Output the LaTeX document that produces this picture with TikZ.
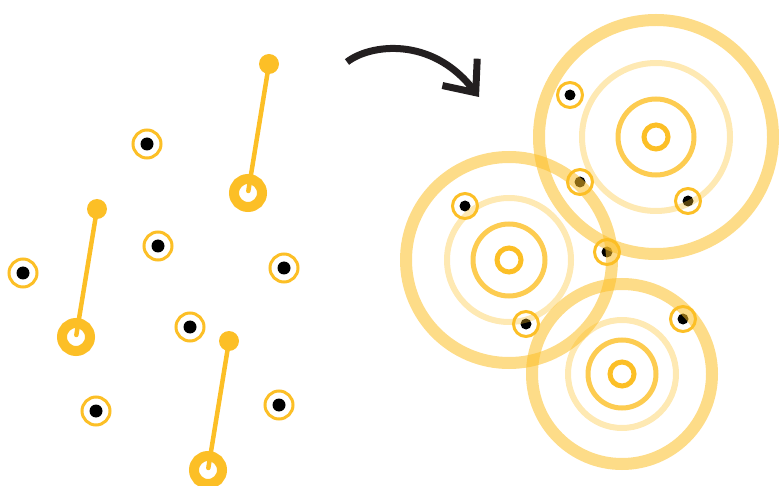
\documentclass[tikz,border=0pt]{standalone}
\usepackage{xcolor}
\usepackage{tikz}
\usetikzlibrary{arrows.meta}

\definecolor{amber}{RGB}{252,191,38}
\definecolor{ink}{RGB}{35,31,32}

\begin{document}
\begin{tikzpicture}[
  x=1pt, y=-1pt,
  particle/.style={circle, draw=amber, line width=3pt, fill=white, inner sep=0pt, minimum size=28pt, path picture={\fill[black] (path picture bounding box.center) circle[radius=6.5pt];}},
  caught/.style={circle, draw=amber, line width=3pt, fill=white, inner sep=0pt, minimum size=25pt, path picture={\fill[black] (path picture bounding box.center) circle[radius=5.5pt];}},
  ball/.style={circle, fill=amber, inner sep=0pt, minimum size=20pt},
  hub/.style={circle, draw=amber, line width=10pt, inner sep=0pt, minimum size=28pt},
  rod/.style={draw=amber, line width=4.5pt, line cap=round, shorten >=2pt},
  core/.style={draw=amber, line width=5pt},
  wave/.style={draw=amber, line width=5pt, draw opacity=0.8},
  halo/.style={draw=amber, line width=6pt, draw opacity=0.35},
  shell/.style={draw=amber, line width=12pt, draw opacity=0.55},
  turn/.style={-{Straight Barb[length=26pt, width=44pt, line join=miter, line cap=butt]}, line width=7pt, draw=ink}
]
\useasboundingbox (0,0) rectangle (779,486);
% free particles
\node[particle] (p1) at (147,144) {};
\node[particle] (p2) at (158,246) {};
\node[particle] (p3) at (23,273) {};
\node[particle] (p4) at (284,268) {};
\node[particle] (p5) at (190,327) {};
\node[particle] (p6) at (96,411) {};
\node[particle] (p7) at (279,405) {};
% pendulums
\node[ball] (b1) at (269,64) {};
\node[hub] (h1) at (248,193) {};
\node[ball] (b2) at (97,209) {};
\node[hub] (h2) at (76,337) {};
\node[ball] (b3) at (229,341) {};
\node[hub] (h3) at (208,470) {};
\draw[rod] (b1.center) -- (h1.center);
\draw[rod] (b2.center) -- (h2.center);
\draw[rod] (b3.center) -- (h3.center);
% arrow
\coordinate (from) at (347,62);
\coordinate (to) at (479,97);
\draw[turn] (from) .. controls (370,44) and (432,36) .. (to);
% particles caught in the waves
\node[caught] (q1) at (570,95) {};
\node[caught] (q2) at (465,206) {};
\node[caught] (q3) at (580,182) {};
\node[caught] (q4) at (688,201) {};
\node[caught] (q5) at (607,252) {};
\node[caught] (q6) at (526,324) {};
\node[caught] (q7) at (683,319) {};
% wave sources
\coordinate (ca) at (656,137);
\coordinate (cb) at (509,260);
\coordinate (cc) at (622,374);
\draw[core] (ca) circle[radius=12pt];
\draw[wave] (ca) circle[radius=38pt];
\draw[halo] (ca) circle[radius=74pt];
\draw[shell] (ca) circle[radius=117pt];
\draw[core] (cb) circle[radius=12pt];
\draw[wave] (cb) circle[radius=36pt];
\draw[halo] (cb) circle[radius=62pt];
\draw[shell] (cb) circle[radius=103pt];
\draw[core] (cc) circle[radius=12pt];
\draw[wave] (cc) circle[radius=34pt];
\draw[halo] (cc) circle[radius=54pt];
\draw[shell] (cc) circle[radius=90pt];
\end{tikzpicture}
\end{document}
